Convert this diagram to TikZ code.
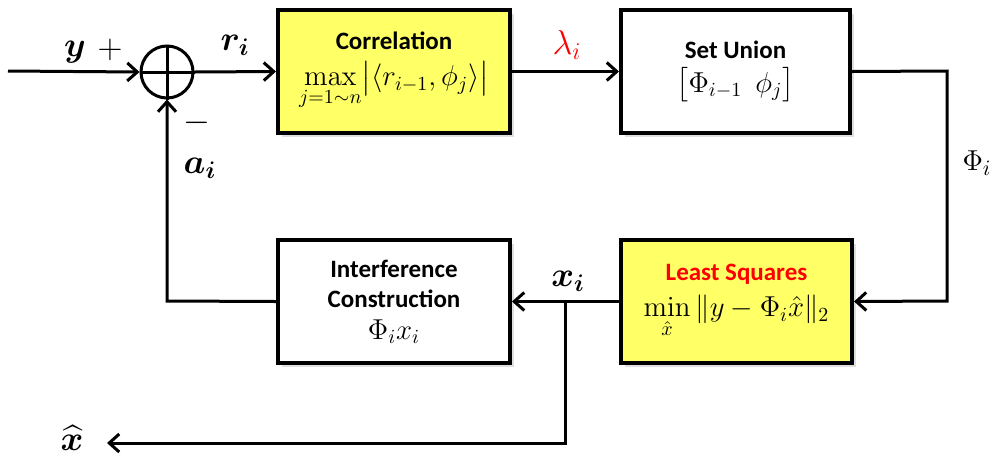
\documentclass[tikz,border=0pt]{standalone}
\usepackage{amsmath,bm}
\usepackage[no-math]{fontspec}
\setmainfont{Carlito}
\usetikzlibrary{arrows.meta,shadows}
\definecolor{boxyellow}{HTML}{FFFF66}
\newcommand{\bxm}{\fontsize{14.5}{16}\selectfont\mdseries}
\tikzset{
  blk/.style={draw=black, line width=2pt, minimum width=115pt, minimum height=61.5pt,
    inner sep=0pt, align=center, font=\fontsize{12.5}{15}\selectfont\bfseries,
    drop shadow={opacity=0.25, shadow xshift=2pt, shadow yshift=-2pt}},
  yblk/.style={blk, fill=boxyellow},
  wblk/.style={blk, fill=white},
  conn/.style={line width=1.5pt, -{Straight Barb[length=5pt,width=9pt,line width=1.5pt]}},
  lbl/.style={font=\fontsize{17}{17}\selectfont, inner sep=0pt},
}
\begin{document}
\begin{tikzpicture}[x=0.5pt,y=-0.5pt]
\useasboundingbox (0,0) rectangle (999,456);
% summing junction
\node[circle, draw, line width=1.5pt, minimum size=26pt, inner sep=0pt] (sum) at (167,72) {};
\draw[line width=1.5pt] (sum.north) -- (sum.south) (sum.west) -- (sum.east);
% blocks
\node[yblk, minimum width=116pt] (corr) at (394,71.5)
  {Correlation\\[3pt] {\bxm$\displaystyle\max_{j=1\sim n}\bigl|\langle r_{i-1},\phi_j\rangle\bigr|$}};
\node[wblk, minimum width=114.5pt] (union) at (735.5,71.5)
  {Set Union\\[2pt] {\bxm$\bigl[\Phi_{i-1}\ \ \phi_j\bigr]$}};
\node[yblk, minimum width=115.5pt] (ls) at (736.5,301.5)
  {\textcolor{red}{Least Squares}\\[3pt] {\bxm$\displaystyle\min_{\hat x}\|y-\Phi_i\hat x\|_2$}};
\node[wblk, minimum width=116pt] (ic) at (394,301.5)
  {Interference\\Construction\\[1pt] {\bxm$\Phi_i x_i$}};
% coordinates
\coordinate (in) at (8,71);
\coordinate (rc1) at (947,71);
\coordinate (rc2) at (947,301);
\coordinate (br) at (565,301);
\coordinate (bb) at (565,443);
\coordinate (out) at (107,443);
\coordinate (lc) at (167,301);
% connectors
\draw[conn] (in) -- (sum.west);
\draw[conn] (sum.east) -- (corr.west);
\draw[conn] (corr.east) -- (union.west);
\draw[conn] (union.east) -- (rc1) -- (rc2) -- (ls.east);
\draw[conn] (ls.west) -- (ic.east);
\draw[conn] (br) -- (bb) -- (out);
\draw[conn] (ic.west) -- (lc) -- (sum.south);
% labels
\node[lbl] (ly) at (75,52) {$\bm{y}$};
\node[lbl] (lplus) at (110,50) {$+$};
\node[lbl] (lr) at (235,45) {$\bm{r_i}$};
\node[lbl, text=red, font=\fontsize{17}{17}\selectfont] (llam) at (567,45) {$\lambda_i$};
\node[lbl] (lminus) at (197,123) {$-$};
\node[lbl] (la) at (200,168) {$\bm{a_i}$};
\node[lbl, font=\fontsize{15}{15}\selectfont] (lphi) at (977,163) {$\Phi_i$};
\node[lbl] (lx) at (568,281) {$\bm{x_i}$};
\node[lbl] (lxh) at (72,438) {$\bm{\widehat{x}}$};
\end{tikzpicture}
\end{document}
